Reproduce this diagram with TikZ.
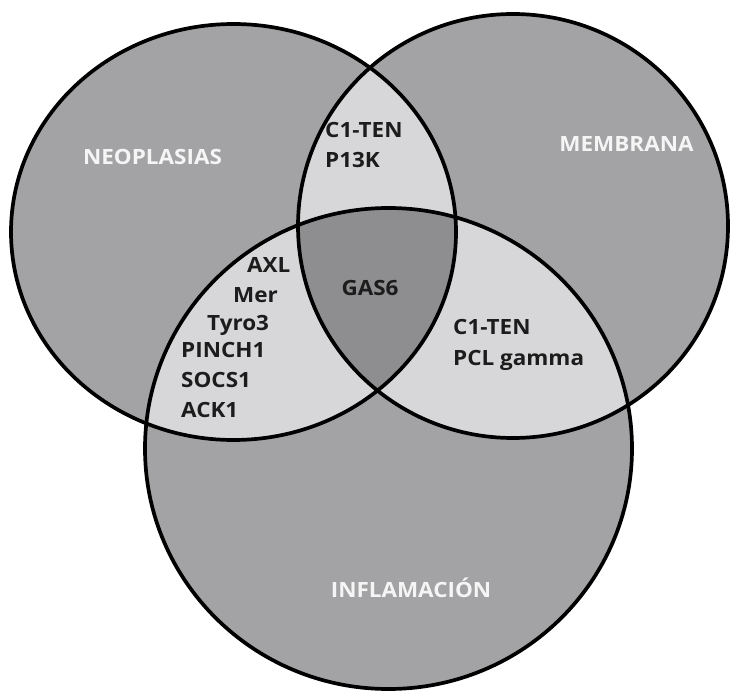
\documentclass[tikz,border=0pt]{standalone}
\usepackage{fontspec}
\setmainfont{Open Sans}[FakeStretch=1.07]
\definecolor{outergray}{RGB}{163,163,165}
\definecolor{pairgray}{RGB}{215,215,217}
\definecolor{triplegray}{RGB}{142,142,144}
\definecolor{labelwhite}{RGB}{245,245,245}
\definecolor{txtdark}{RGB}{28,28,28}
\tikzset{
  setlabel/.style={font=\fontsize{21}{25}\selectfont\bfseries, text=labelwhite, inner sep=0pt, anchor=base},
  item/.style={font=\fontsize{21}{25}\selectfont\bfseries, text=txtdark, inner sep=0pt, anchor=base west},
  citem/.style={font=\fontsize{21}{25}\selectfont\bfseries, text=txtdark, inner sep=0pt, anchor=base},
  rim/.style={draw=black, line width=3.7pt}
}
\begin{document}
\begin{tikzpicture}[x=1pt,y=-1pt]
\fill[white] (0,0) rectangle (730,692);
\useasboundingbox (0,0) rectangle (730,692);
\def\elL{(233.5,232) ellipse [x radius=222.5, y radius=208]}
\def\elR{(513,226) ellipse [x radius=215, y radius=212]}
\def\elB{(388.5,448.5) ellipse [x radius=243.5, y radius=240.5]}
% base fills
\fill[outergray] \elL;
\fill[outergray] \elR;
\fill[outergray] \elB;
% pairwise intersections
\begin{scope}\clip \elL; \fill[pairgray] \elR; \end{scope}
\begin{scope}\clip \elL; \fill[pairgray] \elB; \end{scope}
\begin{scope}\clip \elR; \fill[pairgray] \elB; \end{scope}
% triple intersection
\begin{scope}\clip \elL; \clip \elR; \fill[triplegray] \elB; \end{scope}
% outlines
\draw[rim] \elL;
\draw[rim] \elR;
\draw[rim] \elB;
% set labels
\node[setlabel] (neo) at (152.5,165) {NEOPLASIAS};
\node[setlabel] (mem) at (626.5,152) {MEMBRANA};
\node[setlabel] (inf) at (411,597) {INFLAMACIÓN};
% L and R
\node[item] (c1a) at (325,138) {C1-TEN};
\node[item] (p13k) at (325,168) {P13K};
% L and B
\node[item] (axl) at (247,273) {AXL};
\node[item] (mer) at (233,302) {Mer};
\node[item] (tyro) at (207,330) {Tyro3};
\node[item] (pinch) at (181,357) {PINCH1};
\node[item] (socs) at (181,387) {SOCS1};
\node[item] (ack) at (181,417) {ACK1};
% all three
\node[citem] (gas) at (370,295) {GAS6};
% R and B
\node[item] (c1b) at (453,334) {C1-TEN};
\node[item] (pcl) at (453,365) {PCL gamma};
\end{tikzpicture}
\end{document}
